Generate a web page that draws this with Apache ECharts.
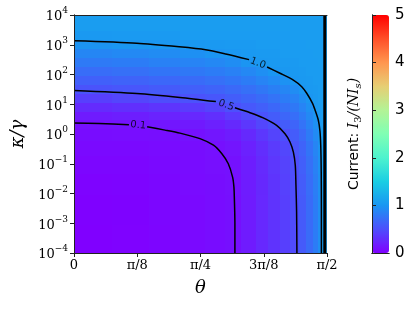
<!DOCTYPE html>
<html>
<head>
<meta charset="utf-8">
<script src="https://cdn.jsdelivr.net/npm/echarts@6/dist/echarts.min.js"></script>
<style>
  html, body { margin: 0; padding: 0; background: #fff; }
  #chart { width: 415px; height: 311px; }
</style>
</head>
<body>
<div id="chart"></div>
<script>
// cell edges of the filled field: θ (rad) and κ/γ
const thetaEdges = [0, 0.236, 0.471, 0.660, 0.817, 0.942, 1.037, 1.131, 1.210, 1.280, 1.343, 1.398, 1.445, 1.484, 1.516, 1.539, 1.5708];
const kappaEdges = [1e-4, 1e-3, 1e-2, 0.05, 0.2, 0.63, 1.6, 3.2, 6.3, 12.6, 25, 50, 100, 200, 400, 800, 1600, 3200, 1e4];

// I3/(N Is), one row per κ/γ band, bottom to top
const currentValues = [
  [0.00, 0.01, 0.03, 0.057, 0.075, 0.097, 0.17, 0.25, 0.32, 0.40, 0.475, 0.58, 0.70, 0.82, 0.95, 1.06],
  [0.005, 0.015, 0.035, 0.06, 0.078, 0.098, 0.17, 0.25, 0.32, 0.40, 0.478, 0.58, 0.70, 0.82, 0.95, 1.06],
  [0.02, 0.025, 0.045, 0.068, 0.085, 0.10, 0.175, 0.255, 0.33, 0.41, 0.49, 0.59, 0.71, 0.83, 0.96, 1.06],
  [0.035, 0.04, 0.055, 0.078, 0.092, 0.11, 0.185, 0.265, 0.345, 0.425, 0.50, 0.61, 0.73, 0.85, 0.97, 1.06],
  [0.055, 0.06, 0.07, 0.085, 0.10, 0.13, 0.21, 0.29, 0.375, 0.45, 0.54, 0.64, 0.76, 0.88, 0.98, 1.06],
  [0.075, 0.08, 0.09, 0.105, 0.14, 0.18, 0.26, 0.35, 0.43, 0.50, 0.59, 0.69, 0.81, 0.92, 1.0, 1.06],
  [0.10, 0.115, 0.14, 0.16, 0.20, 0.26, 0.35, 0.44, 0.51, 0.59, 0.65, 0.75, 0.86, 0.96, 1.02, 1.06],
  [0.17, 0.19, 0.22, 0.25, 0.30, 0.38, 0.47, 0.53, 0.59, 0.66, 0.72, 0.81, 0.91, 0.99, 1.03, 1.06],
  [0.27, 0.30, 0.33, 0.38, 0.43, 0.51, 0.56, 0.61, 0.67, 0.74, 0.79, 0.87, 0.96, 1.02, 1.04, 1.06],
  [0.40, 0.44, 0.49, 0.52, 0.55, 0.60, 0.65, 0.70, 0.75, 0.82, 0.86, 0.94, 1.0, 1.03, 1.05, 1.06],
  [0.53, 0.55, 0.58, 0.61, 0.64, 0.68, 0.73, 0.78, 0.84, 0.89, 0.94, 1.0, 1.03, 1.04, 1.05, 1.06],
  [0.62, 0.64, 0.67, 0.70, 0.73, 0.77, 0.82, 0.87, 0.92, 0.97, 1.01, 1.03, 1.04, 1.05, 1.05, 1.06],
  [0.71, 0.73, 0.76, 0.79, 0.82, 0.85, 0.90, 0.95, 1.0, 1.02, 1.03, 1.04, 1.05, 1.05, 1.05, 1.06],
  [0.80, 0.82, 0.85, 0.87, 0.90, 0.94, 0.99, 1.02, 1.03, 1.04, 1.04, 1.05, 1.05, 1.05, 1.06, 1.06],
  [0.89, 0.91, 0.93, 0.96, 0.99, 1.01, 1.03, 1.04, 1.04, 1.05, 1.05, 1.05, 1.05, 1.06, 1.06, 1.06],
  [0.98, 1.0, 1.01, 1.02, 1.03, 1.04, 1.04, 1.05, 1.05, 1.05, 1.05, 1.05, 1.06, 1.06, 1.06, 1.06],
  [1.03, 1.04, 1.04, 1.05, 1.05, 1.05, 1.05, 1.05, 1.05, 1.05, 1.06, 1.06, 1.06, 1.06, 1.06, 1.06],
  [1.06, 1.06, 1.06, 1.06, 1.06, 1.06, 1.06, 1.06, 1.06, 1.06, 1.06, 1.06, 1.06, 1.06, 1.06, 1.06]
];

// contour lines [θ, κ/γ], '-' = gap for the inline label
const contour10 = [
  [0, 1350], [0.390, 1120], [0.653, 850], [0.817, 680], [0.942, 490], [1.087, 316], '-',
  [1.199, 178], [1.279, 110], [1.362, 65], [1.414, 39], [1.445, 23.4], [1.481, 10.7], [1.497, 6.3],
  [1.517, 2.9], [1.527, 1.26], [1.532, 0.40], [1.535, 0.05], [1.536, 0.003], [1.536, 1e-4]
];
const contour05 = [
  [0, 29], [0.390, 23], [0.658, 17], [0.881, 12.3], '-',
  [0.999, 7.6], [1.093, 5.2], [1.175, 3.5], [1.258, 1.95], [1.310, 1.02], [1.341, 0.54], [1.362, 0.245],
  [1.374, 0.087], [1.378, 0.019], [1.382, 0.0025], [1.384, 1e-4]
];
const contour01 = [
  [0, 2.35], [0.157, 2.24], [0.341, 2.04], '-',
  [0.454, 1.74], [0.565, 1.35], [0.658, 1.07], [0.782, 0.70], [0.866, 0.42], [0.917, 0.22], [0.958, 0.1],
  [0.985, 0.035], [0.993, 0.016], [0.996, 0.0058], [0.999, 0.001], [0.999, 1e-4]
];
const contourLabels = [
  { at: [1.142, 239], text: '1.0', angle: -21 },
  { at: [0.944, 9.3], text: '0.5', angle: -20 },
  { at: [0.399, 1.97], text: '0.1', angle: -6 }
];
// crowded contours where the current diverges at θ → π/2
const divergence = [[1.557, 1e-4], [1.557, 1e4]];

const thetaTicks = ['0', 'π/8', 'π/4', '3π/8', 'π/2'];
const rainbow = ['#8000ff', '#4d4ffc', '#1a96f2', '#1acee3', '#4df3ce', '#80ffb4',
                 '#b3f396', '#e6ce74', '#ff964f', '#ff4f28', '#ff0000'];

const cells = [];
currentValues.forEach((row, j) => {
  row.forEach((v, i) => {
    cells.push([thetaEdges[i], thetaEdges[i + 1], kappaEdges[j], kappaEdges[j + 1], v]);
  });
});

const ink = '#222';
const serif = 'DejaVu Serif';
const lineOnly = { show: true, lineStyle: { color: ink, width: 1 } };

const chart = echarts.init(document.getElementById('chart'), null, { renderer: 'canvas' });

const contourSeries = [contour10, contour05, contour01].map(pts => ({
  type: 'line',
  data: pts,
  xAxisIndex: 0, yAxisIndex: 0,
  showSymbol: false,
  symbol: 'none',
  connectNulls: false,
  smooth: 0.25,
  lineStyle: { color: '#000', width: 1.5 },
  silent: true,
  z: 4
}));

chart.setOption({
  animation: false,
  grid: [
    { left: 74, top: 15, width: 253, height: 238 },
    { left: 372, top: 15, width: 17, height: 238 }
  ],
  xAxis: [
    {
      type: 'value', gridIndex: 0, min: 0, max: Math.PI / 2, interval: Math.PI / 8,
      axisLine: lineOnly,
      axisTick: { show: true, length: 4, lineStyle: { color: ink } },
      axisLabel: {
        color: '#000', fontFamily: serif, fontSize: 13, margin: 6,
        formatter: v => thetaTicks[Math.round(v / (Math.PI / 8))]
      },
      splitLine: { show: false },
      name: 'θ', nameLocation: 'middle', nameGap: 26,
      nameTextStyle: { color: '#000', fontFamily: serif, fontStyle: 'italic', fontSize: 18 },
      z: 6
    },
    {
      type: 'value', gridIndex: 0, position: 'top', min: 0, max: Math.PI / 2,
      axisLine: lineOnly, axisTick: { show: false }, axisLabel: { show: false },
      splitLine: { show: false }, z: 6
    },
    {
      type: 'value', gridIndex: 1, min: 0, max: 1,
      axisLine: lineOnly, axisTick: { show: false }, axisLabel: { show: false },
      splitLine: { show: false }, z: 6
    },
    {
      type: 'value', gridIndex: 1, position: 'top', min: 0, max: 1,
      axisLine: lineOnly, axisTick: { show: false }, axisLabel: { show: false },
      splitLine: { show: false }, z: 6
    }
  ],
  yAxis: [
    {
      type: 'log', logBase: 10, gridIndex: 0, min: 1e-4, max: 1e4, splitNumber: 8,
      axisLine: lineOnly,
      axisTick: { show: true, length: 4, lineStyle: { color: ink } },
      minorTick: { show: false },
      axisLabel: {
        margin: 6,
        formatter: v => {
          const e = Math.round(Math.log10(v));
          return '{b|10}{s|' + (e < 0 ? '\u2212' + (-e) : e) + '}';
        },
        rich: {
          b: { fontFamily: serif, fontSize: 13, color: '#000', lineHeight: 17, verticalAlign: 'bottom' },
          s: { fontFamily: serif, fontSize: 9, color: '#000', lineHeight: 9, verticalAlign: 'top' }
        }
      },
      splitLine: { show: false },
      name: 'κ/γ', nameLocation: 'middle', nameGap: 40, nameRotate: 90,
      nameTextStyle: { color: '#000', fontFamily: serif, fontStyle: 'italic', fontSize: 18 },
      z: 6
    },
    {
      type: 'log', logBase: 10, gridIndex: 0, position: 'right', min: 1e-4, max: 1e4,
      axisLine: lineOnly, axisTick: { show: false }, axisLabel: { show: false },
      splitLine: { show: false }, z: 6
    },
    {
      type: 'value', gridIndex: 1, position: 'right', min: 0, max: 5, interval: 1,
      axisLine: lineOnly,
      axisTick: { show: true, length: 4, lineStyle: { color: ink } },
      axisLabel: { color: '#000', fontFamily: 'DejaVu Sans', fontSize: 15, margin: 6 },
      splitLine: { show: false }, z: 6
    },
    {
      type: 'value', gridIndex: 1, position: 'left', min: 0, max: 5,
      axisLine: lineOnly, axisTick: { show: false }, axisLabel: { show: false },
      splitLine: { show: false },
      name: '{a|Current: }{m|I}{sub|3}{m|/(NI}{subi|s}{m|)}',
      nameLocation: 'middle', nameGap: 9, nameRotate: 90,
      nameTextStyle: {
        rich: {
          a: { fontFamily: 'DejaVu Sans', fontSize: 14, color: '#000', lineHeight: 18 },
          m: { fontFamily: serif, fontStyle: 'italic', fontSize: 14, color: '#000', lineHeight: 18 },
          sub: { fontFamily: serif, fontSize: 10, color: '#000', lineHeight: 10, verticalAlign: 'bottom' },
          subi: { fontFamily: serif, fontStyle: 'italic', fontSize: 10, color: '#000', lineHeight: 10, verticalAlign: 'bottom' }
        }
      },
      z: 6
    }
  ],
  visualMap: {
    type: 'continuous', min: 0, max: 5, dimension: 4, seriesIndex: 0,
    inRange: { color: rainbow },
    calculable: false, hoverLink: false,
    left: 372, top: 15, itemWidth: 17, itemHeight: 238, padding: 0,
    z: 1
  },
  series: [
    {
      type: 'custom',
      xAxisIndex: 0, yAxisIndex: 0,
      data: cells,
      encode: { x: [0, 1], y: [2, 3] },
      clip: true,
      silent: true,
      z: 1,
      renderItem: (params, api) => {
        const a = api.coord([api.value(0), api.value(3)]);
        const b = api.coord([api.value(1), api.value(2)]);
        const x = Math.floor(a[0]), y = Math.floor(a[1]);
        return {
          type: 'rect',
          shape: { x: x, y: y, width: Math.ceil(b[0]) - x + 1, height: Math.ceil(b[1]) - y + 1 },
          style: { fill: api.visual('color') }
        };
      }
    },
    ...contourSeries,
    {
      type: 'line',
      data: divergence,
      xAxisIndex: 0, yAxisIndex: 0,
      symbol: 'none',
      lineStyle: { color: '#000', width: 3 },
      silent: true,
      z: 4
    },
    {
      type: 'scatter',
      xAxisIndex: 0, yAxisIndex: 0,
      symbolSize: 0,
      silent: true,
      z: 5,
      data: contourLabels.map(l => ({
        value: l.at,
        label: { show: true, formatter: l.text, rotate: l.angle }
      })),
      label: { position: 'inside', color: '#000', fontFamily: 'DejaVu Sans', fontSize: 10 }
    }
  ]
});
</script>
</body>
</html>
